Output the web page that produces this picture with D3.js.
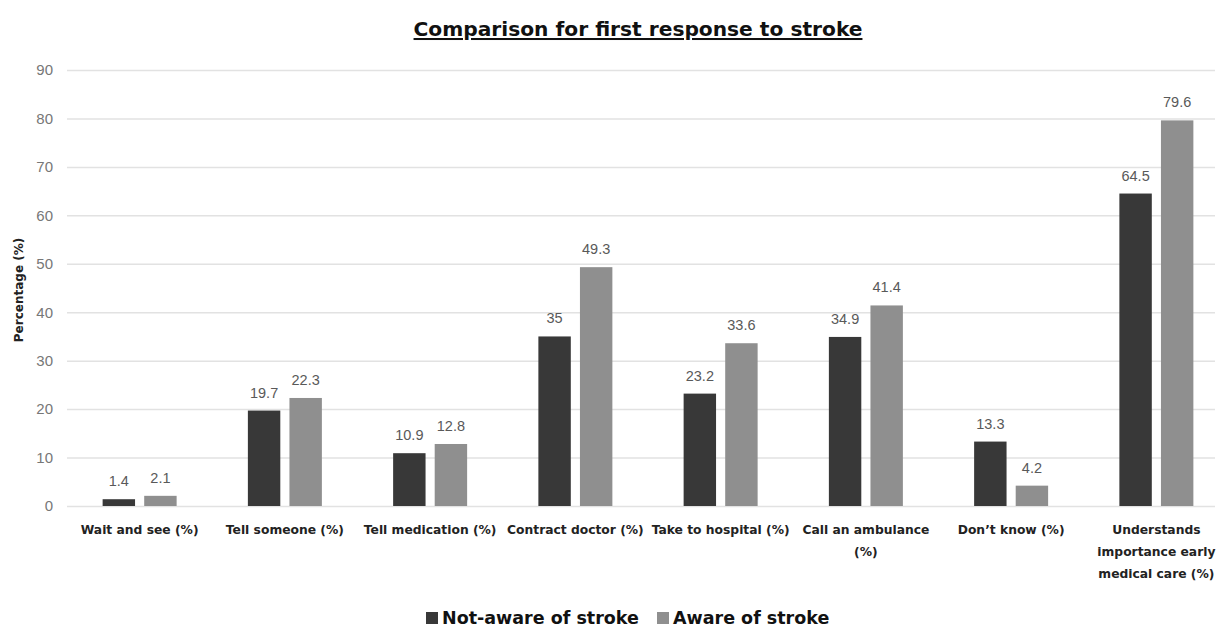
<!DOCTYPE html>
<html>
<head>
<meta charset="utf-8">
<script src="https://cdn.jsdelivr.net/npm/d3@7"></script>
<style>
  body { margin: 0; background: #fff; }
  text { font-family: "Liberation Sans", Arial, sans-serif; }
  .bold { font-family: "DejaVu Sans", sans-serif; font-weight: bold; }
</style>
</head>
<body>
<div class="chart"></div>
<script>
const categories = [
  'Wait and see (%)',
  'Tell someone (%)',
  'Tell medication (%)',
  'Contract doctor (%)',
  'Take to hospital (%)',
  'Call an ambulance (%)',
  'Don\u2019t know (%)',
  'Understands importance early medical care (%)'
];
const seriesNames = ['Not-aware of stroke', 'Aware of stroke'];
const notAware = [1.4, 19.7, 10.9, 35, 23.2, 34.9, 13.3, 64.5];
const aware = [2.1, 22.3, 12.8, 49.3, 33.6, 41.4, 4.2, 79.6];
const yTicks = [0, 10, 20, 30, 40, 50, 60, 70, 80, 90];
const colors = ['#383838', '#8f8f8f'];

const outerWidth = 1219;
const outerHeight = 627;
const margin = { top: 70, right: -10, bottom: 121, left: 67 };
const innerWidth = outerWidth - margin.left - margin.right;
const innerHeight = outerHeight - margin.top - margin.bottom;

const svg = d3.select('.chart')
  .append('svg')
    .attr('width', outerWidth)
    .attr('height', outerHeight);

const chartG = svg.append('g')
  .attr('transform', `translate(${margin.left}, ${margin.top})`);

const x0 = d3.scaleBand()
  .domain(categories)
  .range([0, innerWidth])
  .padding(0);

const x1 = d3.scaleBand()
  .domain(seriesNames)
  .range([x0.bandwidth() / 2 - 37, x0.bandwidth() / 2 + 37])
  .paddingInner(0.22);

const y = d3.scaleLinear()
  .domain([0, 90])
  .range([innerHeight, 0]);

// gridlines + y labels
const yAxis = d3.axisLeft(y)
  .tickValues(yTicks)
  .tickSize(-(1215 - margin.left))
  .tickPadding(14);

chartG.append('g')
  .call(yAxis)
  .call(g => g.select('.domain').remove())
  .call(g => g.selectAll('.tick line').attr('stroke', '#e2e2e2').attr('stroke-width', 1.5))
  .call(g => g.selectAll('.tick text')
    .attr('fill', '#777')
    .attr('font-size', 15));

const rows = categories.map((c, i) => ({ cat: c, values: [notAware[i], aware[i]] }));

const groups = chartG.selectAll('.grp')
  .data(rows)
  .join('g')
    .attr('class', 'grp')
    .attr('transform', d => `translate(${x0(d.cat)}, 0)`);

groups.selectAll('rect')
  .data(d => d.values.map((v, j) => ({ name: seriesNames[j], v, j })))
  .join('rect')
    .attr('x', d => x1(d.name))
    .attr('y', d => y(d.v))
    .attr('width', x1.bandwidth())
    .attr('height', d => y(0) - y(d.v))
    .attr('fill', d => colors[d.j]);

groups.selectAll('.val')
  .data(d => d.values.map((v, j) => ({ name: seriesNames[j], v, j })))
  .join('text')
    .attr('class', 'val')
    .attr('x', d => x1(d.name) + x1.bandwidth() / 2)
    .attr('y', d => y(d.v) - 13)
    .attr('text-anchor', 'middle')
    .attr('font-size', 14.5)
    .attr('fill', '#595959')
    .text(d => d.v);

// x labels
const xAxis = d3.axisBottom(x0).tickSize(0).tickPadding(19);
chartG.append('g')
  .attr('transform', `translate(0, ${innerHeight})`)
  .call(xAxis)
  .call(g => g.select('.domain').remove())
  .call(g => g.selectAll('.tick text')
    .attr('class', 'bold')
    .attr('font-size', 12.3)
    .attr('fill', '#222')
    .call(wrap, 144));

function wrap(text, width) {
  text.each(function () {
    const t = d3.select(this);
    const words = t.text().split(/\s+/);
    const yy = t.attr('y');
    const dy = parseFloat(t.attr('dy'));
    let line = [];
    let lineNo = 0;
    let tspan = t.text(null).append('tspan').attr('x', 0).attr('y', yy).attr('dy', dy + 'em');
    words.forEach(w => {
      line.push(w);
      tspan.text(line.join(' '));
      if (tspan.node().getComputedTextLength() > width && line.length > 1) {
        line.pop();
        tspan.text(line.join(' '));
        line = [w];
        tspan = t.append('tspan').attr('x', 0).attr('y', yy)
          .attr('dy', (++lineNo * 1.8 + dy) + 'em').text(w);
      }
    });
  });
}

// y title
svg.append('text')
  .attr('class', 'bold')
  .attr('transform', `translate(23, ${margin.top + innerHeight / 2 + 2}) rotate(-90)`)
  .attr('text-anchor', 'middle')
  .attr('font-size', 12)
  .attr('fill', '#222')
  .text('Percentage (%)');

// title
svg.append('text')
  .attr('class', 'bold')
  .attr('x', 638)
  .attr('y', 36)
  .attr('text-anchor', 'middle')
  .attr('font-size', 20.2)
  .attr('fill', '#111')
  .attr('text-decoration', 'underline')
  .text('Comparison for first response to stroke');

// legend
const legend = svg.append('g').attr('transform', 'translate(426, 624)');
const items = legend.selectAll('g')
  .data(seriesNames)
  .join('g')
    .attr('transform', (d, i) => `translate(${i === 0 ? 0 : 231}, 0)`);
items.append('rect')
  .attr('x', 0).attr('y', -12)
  .attr('width', 12).attr('height', 12)
  .attr('fill', (d, i) => colors[i]);
items.append('text')
  .attr('class', 'bold')
  .attr('x', 16).attr('y', 0)
  .attr('font-size', 17.5)
  .attr('fill', '#111')
  .text(d => d);
</script>
</body>
</html>
